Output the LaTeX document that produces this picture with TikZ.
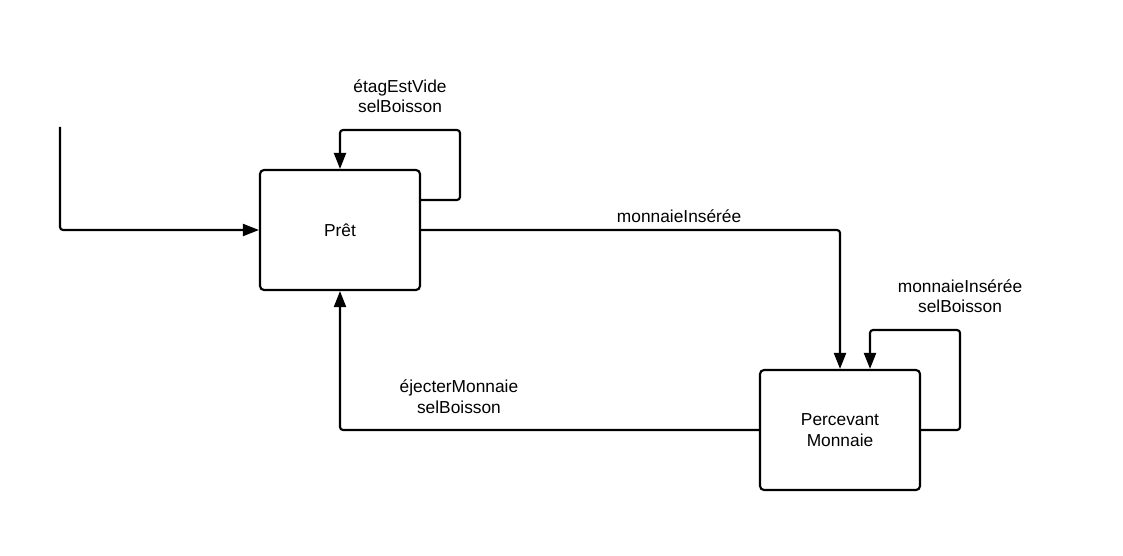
\documentclass[tikz,border=0pt]{standalone}
\usepackage{fontspec}
\setmainfont{Liberation Sans}
\usetikzlibrary{positioning, arrows.meta}
\tikzset{
	->,
	>={Triangle[length=12pt, width=9pt]},
	on grid,
	etat/.style={draw, rectangle, rounded corners=3pt, minimum width=120pt, minimum height=90pt, align=center},
	lbl/.style={align=center}}

\begin{document}
\begin{tikzpicture}[x=0.75pt, y=-0.75pt, line width=1.6pt, rounded corners=2.25pt, font=\fontsize{13}{15.5}\selectfont]
		\useasboundingbox (0,0) rectangle (1123,556);
		
		\node[etat] (pret) at (340,230) {Prêt};
		
		\node[etat, below right=150pt and 375pt of pret] (percevant) {Percevant\\Monnaie};
		
		\coordinate (debut) at (60,127);
		\coordinate (boucleP) at (460,130);
		\coordinate (boucleM) at (960,330);
		
		\draw (debut) |- (pret.west);
		\draw ([yshift=22.5pt]pret.east) -| (boucleP) -| node[pos=0.25, above=8.5pt, lbl] {étagEstVide\\selBoisson} (pret.north);
		\draw (pret.east) -| node[pos=0.308, above=1pt] {monnaieInsérée} (percevant.north);
		\draw (percevant.east) -| node[pos=1, above=8.5pt, lbl] {monnaieInsérée\\selBoisson} (boucleM) -| ([xshift=22.5pt]percevant.north);
		\draw (percevant.west) -| node[pos=0.358, above=8pt, lbl] {éjecterMonnaie\\selBoisson} (pret.south);
	\end{tikzpicture}
\end{document}
